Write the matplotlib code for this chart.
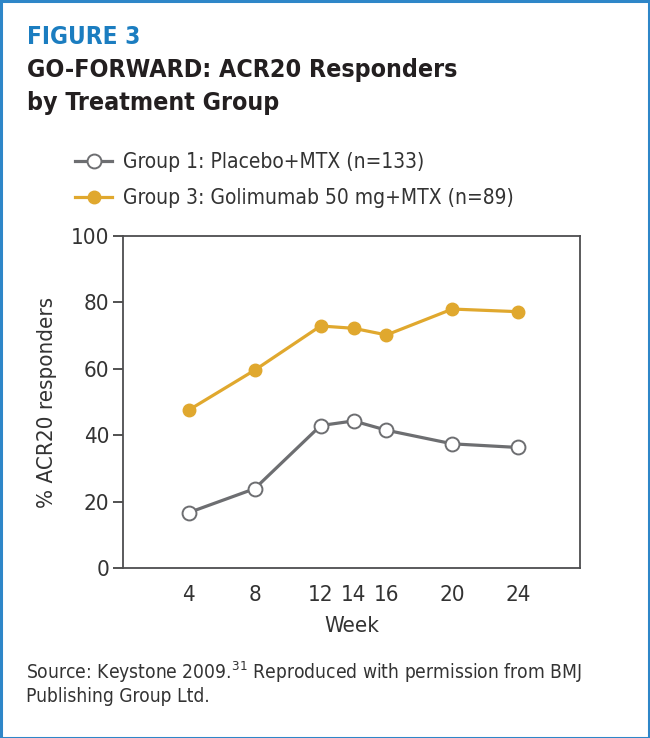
import matplotlib
matplotlib.use("Agg")
import matplotlib.pyplot as plt
from matplotlib.patches import Rectangle

weeks = [4, 8, 12, 14, 16, 20, 24]
placebo = [16.7, 23.9, 42.9, 44.3, 41.5, 37.4, 36.3]
golimumab = [47.6, 59.6, 72.9, 72.2, 70.2, 78.0, 77.2]
yticks = [0, 20, 40, 60, 80, 100]
series_labels = ["Group 1: Placebo+MTX (n=133)", "Group 3: Golimumab 50 mg+MTX (n=89)"]

plt.rcParams['font.family'] = ["DejaVu Sans"]
plt.rcParams['font.stretch'] = "condensed"
plt.rcParams['mathtext.fontset'] = "custom"
plt.rcParams['mathtext.rm'] = "DejaVu Sans:stretch=condensed"
plt.rcParams['mathtext.it'] = "DejaVu Sans:stretch=condensed"
plt.rcParams['mathtext.default'] = "regular"

W, H = 650, 738
fig = plt.figure(figsize=(W / 100, H / 100), dpi=100)

def fx(x):
    return x / W

def fy(y):
    return 1 - y / H

fig.patches.append(Rectangle((0.5 / W, 0.5 / H), 1 - 1.5 / W, 1 - 1.5 / H, transform=fig.transFigure,
                             fill=False, edgecolor="#2E86C8", linewidth=2.2))

fig.text(fx(27), fy(44), "FIGURE 3", color="#1B7DC0", fontsize=17.5, fontweight="bold", va="baseline")
fig.text(fx(27), fy(77), "GO-FORWARD: ACR20 Responders", color="#231F20", fontsize=17.9,
         fontweight="bold", va="baseline")
fig.text(fx(27), fy(110), "by Treatment Group", color="#231F20", fontsize=17.9,
         fontweight="bold", va="baseline")

left, right, top, bottom = 123, 580, 236, 568
ax = fig.add_axes([fx(left), fy(bottom), (right - left) / W, (bottom - top) / H])

gray = "#6D6E71"
gold = "#E0A82E"
l1, = ax.plot(weeks, placebo, color=gray, lw=2.3, marker="o", ms=10, mfc="white", mec=gray, mew=1.4,
              label=series_labels[0], zorder=3)
l2, = ax.plot(weeks, golimumab, color=gold, lw=2.3, marker="o", ms=9, mfc=gold, mec=gold,
              label=series_labels[1], zorder=3)

ax.set_xlim(0, 27.75)
ax.set_ylim(0, 100)
ax.set_xticks(weeks)
ax.set_xticklabels([str(w) for w in weeks])
ax.set_yticks(yticks)
ax.tick_params(axis="x", length=0, pad=12, labelsize=16, colors="#333333")
ax.tick_params(axis="y", length=7, width=1.2, pad=3, labelsize=16, colors="#333333")
for s in ax.spines.values():
    s.set_color("#4D4D4F")
    s.set_linewidth(1.3)
ax.set_xlabel("Week", fontsize=16, color="#333333", labelpad=8)
ax.set_ylabel("% ACR20 responders", fontsize=16, color="#333333", labelpad=10)

leg = fig.legend(handles=[l1, l2], loc="center left", bbox_to_anchor=(fx(56), fy(180)),
                 frameon=False, fontsize=15, handlelength=1.8, handletextpad=0.5,
                 labelspacing=0.75, labelcolor="#333333")

fig.text(fx(26), fy(679), "Source: Keystone 2009.$^{31}$ Reproduced with permission from BMJ",
         fontsize=13.8, color="#333333", va="baseline")
fig.text(fx(26), fy(702), "Publishing Group Ltd.", fontsize=13.8, color="#333333", va="baseline")

fig.savefig("out.png", dpi=100, facecolor="white")
